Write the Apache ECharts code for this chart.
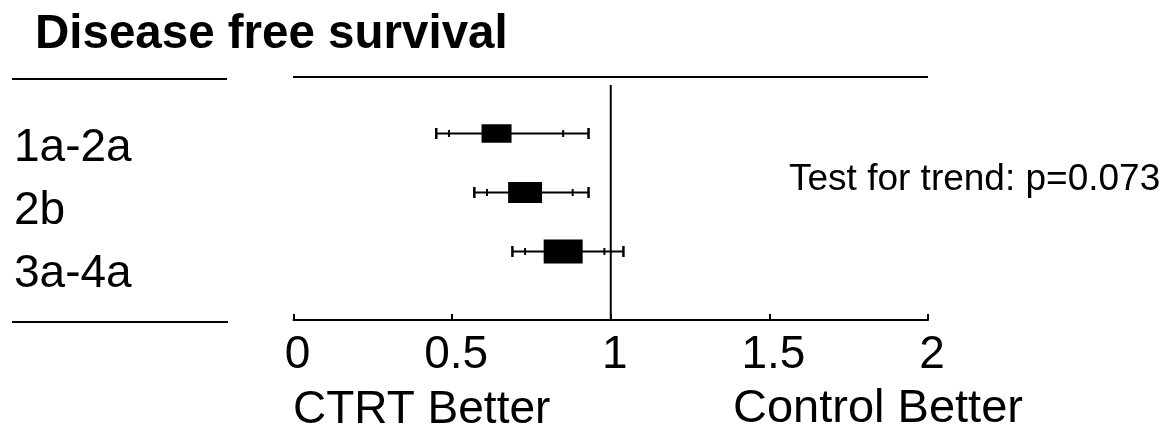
<!DOCTYPE html>
<html lang="en">
<head>
    <meta charset="UTF-8">
    <title>Disease free survival</title>
    <style>
        * {
            padding: 0;
            margin: 0;
        }
        .EC {
            width: 1170px;
            height: 424px;
            background: #fff;
        }
    </style>
</head>
<body>
<div class="EC"></div>
<script src="https://cdn.jsdelivr.net/npm/echarts@6/dist/echarts.min.js"></script>
<script>
    const FONT = '"Liberation Sans", Arial, sans-serif'

    // data
    const stages = ['1a-2a', '2b', '3a-4a']
    const hr = [0.64, 0.73, 0.85]
    const lower = [0.45, 0.57, 0.69]
    const upper = [0.93, 0.93, 1.04]
    const innerLower = [0.49, 0.61, 0.73]
    const innerUpper = [0.85, 0.88, 0.98]
    const weight = [0.77, 0.87, 1.0]
    const xTicks = [0, 0.5, 1, 1.5, 2]
    const refValue = 1
    const trendText = 'Test for trend: p=0.073'

    window.onload = () => {
        let EC = echarts.init(document.querySelector('.EC'))

        let forestData = stages.map((s, i) => [i, lower[i], innerLower[i], hr[i], innerUpper[i], upper[i], weight[i]])

        const renderForest = (params, api) => {
            let row = api.value(0)
            let pLo = api.coord([api.value(1), row])
            let pILo = api.coord([api.value(2), row])
            let pEst = api.coord([api.value(3), row])
            let pIHi = api.coord([api.value(4), row])
            let pHi = api.coord([api.value(5), row])
            let w = api.value(6)
            let y = pEst[1]
            let bw = 39 * w
            let bh = 24 * w
            let line = {stroke: '#000', lineWidth: 2}
            let cap = {stroke: '#000', lineWidth: 2.5}
            return {
                type: 'group',
                children: [
                    {type: 'line', shape: {x1: pLo[0], y1: y, x2: pHi[0], y2: y}, style: line},
                    {type: 'line', shape: {x1: pLo[0], y1: y - 5.5, x2: pLo[0], y2: y + 5.5}, style: cap},
                    {type: 'line', shape: {x1: pHi[0], y1: y - 5.5, x2: pHi[0], y2: y + 5.5}, style: cap},
                    {type: 'line', shape: {x1: pILo[0], y1: y - 3.5, x2: pILo[0], y2: y + 3.5}, style: line},
                    {type: 'line', shape: {x1: pIHi[0], y1: y - 3.5, x2: pIHi[0], y2: y + 3.5}, style: line},
                    {type: 'rect', shape: {x: pEst[0] - bw / 2, y: y - bh / 2, width: bw, height: bh}, style: {fill: '#000'}}
                ]
            }
        }

        let option = {
            backgroundColor: '#fff',
            animation: false,
            title: {
                text: 'Disease free survival',
                left: 35,
                top: 11,
                padding: 0,
                textStyle: {
                    color: '#000',
                    fontFamily: FONT,
                    fontSize: 47.5,
                    fontWeight: 'bold'
                }
            },
            grid: [
                // forest rows
                {left: 293.5, right: 242, top: 104, height: 177},
                // reference line + x axis
                {left: 293.5, right: 242, top: 85, bottom: 104},
                // stage labels
                {left: 14, width: 200, top: 116.5, height: 189}
            ],
            xAxis: [
                {gridIndex: 0, type: 'value', min: 0, max: 2, show: false},
                {
                    gridIndex: 1,
                    type: 'value',
                    min: 0,
                    max: 2,
                    interval: 0.5,
                    splitLine: {show: false},
                    axisLine: {lineStyle: {color: '#000', width: 2}},
                    axisTick: {show: true, inside: true, length: 6, lineStyle: {color: '#000', width: 2}},
                    axisLabel: {
                        color: '#000',
                        fontFamily: FONT,
                        fontSize: 46,
                        margin: 12,
                        padding: [0, 0, 0, 8],
                        formatter: v => xTicks.indexOf(v) > -1 ? String(v) : ''
                    }
                },
                {gridIndex: 2, type: 'value', show: false}
            ],
            yAxis: [
                {gridIndex: 0, type: 'category', data: stages, inverse: true, show: false},
                {gridIndex: 1, type: 'value', min: 0, max: 1, show: false},
                {
                    gridIndex: 2,
                    type: 'category',
                    data: stages,
                    inverse: true,
                    axisLine: {show: false},
                    axisTick: {show: false},
                    axisLabel: {
                        inside: true,
                        margin: 0,
                        color: '#000',
                        fontFamily: FONT,
                        fontSize: 46
                    }
                }
            ],
            series: [
                {
                    type: 'custom',
                    xAxisIndex: 0,
                    yAxisIndex: 0,
                    renderItem: renderForest,
                    data: forestData,
                    silent: true
                },
                {
                    type: 'line',
                    xAxisIndex: 1,
                    yAxisIndex: 1,
                    data: [[refValue, 0], [refValue, 1]],
                    symbol: 'none',
                    lineStyle: {color: '#000', width: 2},
                    silent: true
                }
            ],
            graphic: [
                {type: 'line', shape: {x1: 12, y1: 79, x2: 227, y2: 79}, style: {stroke: '#000', lineWidth: 2}},
                {type: 'line', shape: {x1: 293, y1: 77, x2: 928, y2: 77}, style: {stroke: '#000', lineWidth: 2}},
                {type: 'line', shape: {x1: 12, y1: 322, x2: 228, y2: 322}, style: {stroke: '#000', lineWidth: 2}},
                {
                    type: 'text', x: 789, y: 180,
                    style: {text: trendText, fill: '#000', font: '37px ' + FONT, verticalAlign: 'middle'}
                },
                {
                    type: 'text', x: 293, y: 410,
                    style: {text: 'CTRT Better', fill: '#000', font: '46px ' + FONT, verticalAlign: 'middle'}
                },
                {
                    type: 'text', x: 733, y: 409,
                    style: {text: 'Control Better', fill: '#000', font: '47px ' + FONT, verticalAlign: 'middle'}
                }
            ]
        }
        EC.setOption(option)
    }
</script>
</body>
</html>
